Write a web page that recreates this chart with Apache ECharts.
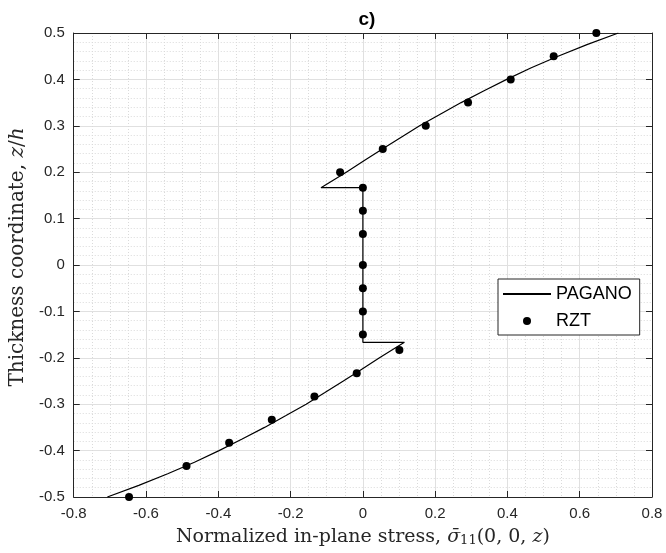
<!DOCTYPE html>
<html>
<head>
<meta charset="utf-8">
<script src="https://cdn.jsdelivr.net/npm/echarts@6/dist/echarts.min.js"></script>
<style>
html,body{margin:0;padding:0;background:#fff;}
#chart{width:666px;height:553px;}
</style>
</head>
<body>
<div id="chart"></div>
<script>
// ---- data ----
const titleText = 'c)';
const seriesNames = ['PAGANO', 'RZT'];
// PAGANO solution: stress (x) and thickness coordinate z/h (y)
const paganoStress = [0.707, 0.62, 0.54, 0.466, 0.398, 0.334, 0.272, 0.214, 0.157, 0.105, 0.054, 0.004, -0.046, -0.116,
  0, 0, 0.115,
  0.046, -0.004, -0.054, -0.105, -0.157, -0.214, -0.272, -0.334, -0.398, -0.466, -0.54, -0.62, -0.707];
const paganoZ = [0.5, 0.475, 0.45, 0.425, 0.4, 0.375, 0.35, 0.325, 0.3, 0.275, 0.25, 0.225, 0.2, 0.1667,
  0.1667, -0.1667, -0.1667,
  -0.2, -0.225, -0.25, -0.275, -0.3, -0.325, -0.35, -0.375, -0.4, -0.425, -0.45, -0.475, -0.5];
// RZT points
const rztStress = [0.646, 0.528, 0.409, 0.291, 0.174, 0.055, -0.063,
  0, 0, 0, 0, 0, 0, 0,
  0.101, -0.017, -0.134, -0.252, -0.370, -0.488, -0.647];
const rztZ = [0.5, 0.45, 0.4, 0.35, 0.3, 0.25, 0.2,
  0.1667, 0.1167, 0.0667, 0, -0.05, -0.1, -0.15,
  -0.1833, -0.2333, -0.2833, -0.3333, -0.3833, -0.4333, -0.5];
// axis ranges / ticks
const xMin = -0.8, xMax = 0.8, xStep = 0.2;
const yMin = -0.5, yMax = 0.5, yStep = 0.1;

const axisColor = '#262626';
const serif = 'DejaVu Serif, Liberation Serif, serif';
const sans = 'Liberation Sans, Arial, sans-serif';
const fmt = v => (Math.abs(v) < 1e-9 ? '0' : (Math.round(v * 10) / 10).toFixed(1));

const chart = echarts.init(document.getElementById('chart'), null, {renderer: 'canvas'});

const majorGrid = {show: true, lineStyle: {color: '#e0e0e0', width: 1}};
const minorGrid = {show: true, lineStyle: {color: '#dadada', width: 1, type: [1, 2]}};

const option = {
  backgroundColor: '#fff',
  animation: false,
  title: {
    text: titleText, left: 362, top: 5, textAlign: 'center',
    textStyle: {fontFamily: sans, fontSize: 19, fontWeight: 'bold', color: '#000'}
  },
  grid: {left: 72, right: 14, top: 33, bottom: 56, containLabel: false},
  legend: {
    orient: 'vertical', left: 498, top: 279,
    data: [
      {name: seriesNames[0], itemStyle: {opacity: 0}},
      {name: seriesNames[1]}
    ],
    itemWidth: 48, itemHeight: 8, itemGap: 7,
    padding: [5, 8, 4, 4],
    borderColor: axisColor, borderWidth: 1, backgroundColor: '#fff',
    textStyle: {fontFamily: sans, fontSize: 18, color: '#000', lineHeight: 20}
  },
  xAxis: [{
    type: 'value', min: xMin, max: xMax, interval: xStep, position: 'bottom',
    name: 'Normalized in-plane stress, {i|σ̄}{s|11}(0, 0, {i|z})',
    nameLocation: 'middle', nameGap: 29,
    nameTextStyle: {
      fontFamily: serif, fontSize: 19, color: '#262626',
      rich: {
        i: {fontFamily: serif, fontSize: 19, fontStyle: 'italic', color: '#262626'},
        s: {fontFamily: serif, fontSize: 13, color: '#262626', verticalAlign: 'bottom', lineHeight: 13, padding: [8, 0, 0, 0]}
      }
    },
    axisLine: {show: true, onZero: false, lineStyle: {color: axisColor, width: 1}},
    axisTick: {show: true, inside: true, length: 6, lineStyle: {color: axisColor}},
    axisLabel: {show: true, margin: 9, formatter: fmt, fontFamily: sans, fontSize: 15, color: axisColor},
    splitLine: majorGrid,
    minorTick: {show: false, splitNumber: 4},
    minorSplitLine: minorGrid
  }, {
    type: 'value', min: xMin, max: xMax, interval: xStep, position: 'top',
    axisLine: {show: true, onZero: false, lineStyle: {color: axisColor, width: 1}},
    axisTick: {show: true, inside: true, length: 6, lineStyle: {color: axisColor}},
    axisLabel: {show: false},
    splitLine: {show: false}
  }],
  yAxis: [{
    type: 'value', min: yMin, max: yMax, interval: yStep, position: 'left',
    name: 'Thickness coordinate, {i|z}/{i|h}',
    nameLocation: 'middle', nameGap: 44, nameRotate: 90,
    nameTextStyle: {
      fontFamily: serif, fontSize: 20, color: '#262626', padding: [0, 0, 0, 16],
      rich: {
        i: {fontFamily: serif, fontSize: 20, fontStyle: 'italic', color: '#262626'}
      }
    },
    axisLine: {show: true, onZero: false, lineStyle: {color: axisColor, width: 1}},
    axisTick: {show: true, inside: true, length: 6, lineStyle: {color: axisColor}},
    axisLabel: {show: true, margin: 9, formatter: fmt, fontFamily: sans, fontSize: 15, color: axisColor},
    splitLine: majorGrid,
    minorTick: {show: false, splitNumber: 5},
    minorSplitLine: minorGrid
  }, {
    type: 'value', min: yMin, max: yMax, interval: yStep, position: 'right',
    axisLine: {show: true, onZero: false, lineStyle: {color: axisColor, width: 1}},
    axisTick: {show: true, inside: true, length: 6, lineStyle: {color: axisColor}},
    axisLabel: {show: false},
    splitLine: {show: false}
  }],
  series: [{
    name: seriesNames[0], type: 'line',
    xAxisIndex: 0, yAxisIndex: 0,
    data: paganoStress.map((x, i) => [x, paganoZ[i]]),
    symbol: 'none', showSymbol: false,
    lineStyle: {color: '#000', width: 1.2},
    itemStyle: {color: '#000'},
    z: 3
  }, {
    name: seriesNames[1], type: 'scatter',
    xAxisIndex: 0, yAxisIndex: 0,
    data: rztStress.map((x, i) => [x, rztZ[i]]),
    symbol: 'circle', symbolSize: 8,
    itemStyle: {color: '#000', opacity: 1},
    z: 4
  }]
};
chart.setOption(option);
</script>
</body>
</html>
